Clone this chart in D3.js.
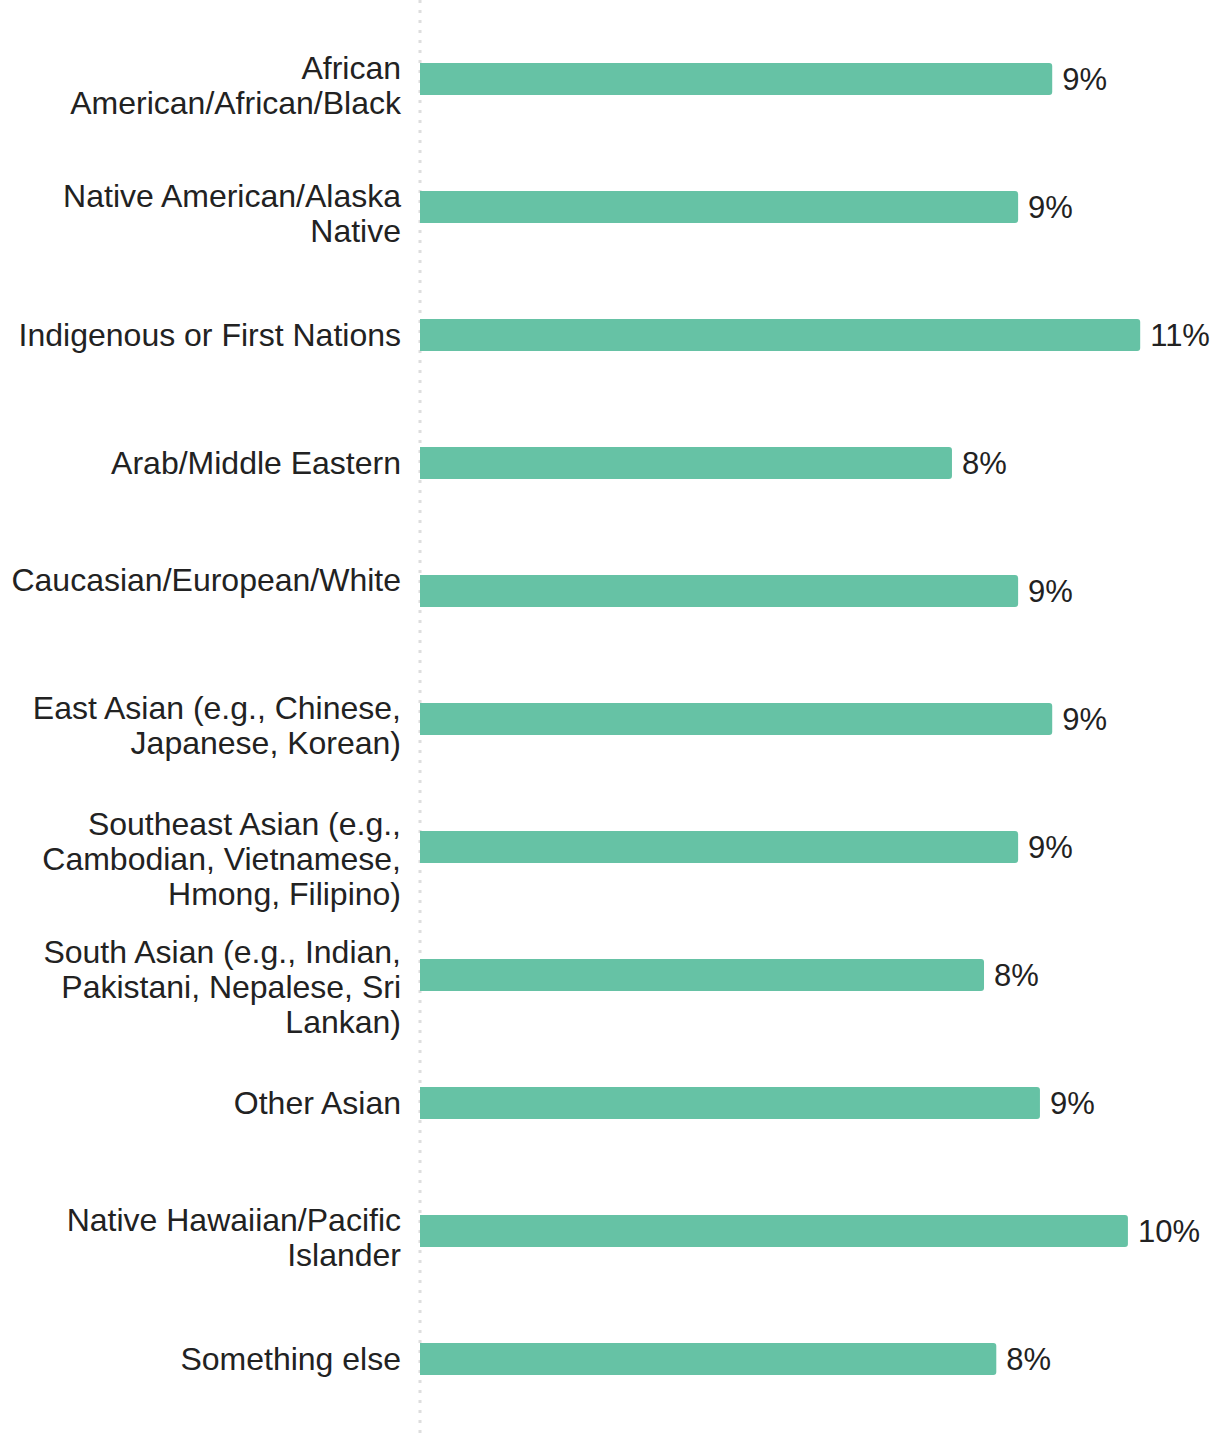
<!DOCTYPE html>
<html>
<head>
<meta charset="utf-8">
<script src="https://cdn.jsdelivr.net/npm/d3@7"></script>
<style>
  body { margin: 0; background: #fff; }
  svg { display: block; font-family: "Liberation Sans", Arial, sans-serif; }
  .label { fill: #222; font-size: 32px; }
  .value { fill: #222; font-size: 31px; }
</style>
</head>
<body>
<svg></svg>
<script>
// categories (as wrapped lines) and share values
const categories = [
  "African American/African/Black",
  "Native American/Alaska Native",
  "Indigenous or First Nations",
  "Arab/Middle Eastern",
  "Caucasian/European/White",
  "East Asian (e.g., Chinese, Japanese, Korean)",
  "Southeast Asian (e.g., Cambodian, Vietnamese, Hmong, Filipino)",
  "South Asian (e.g., Indian, Pakistani, Nepalese, Sri Lankan)",
  "Other Asian",
  "Native Hawaiian/Pacific Islander",
  "Something else"
];

const labelLines = [
  ["African", "American/African/Black"],
  ["Native American/Alaska", "Native"],
  ["Indigenous or First Nations"],
  ["Arab/Middle Eastern"],
  ["Caucasian/European/White", ""],
  ["East Asian (e.g., Chinese,", "Japanese, Korean)"],
  ["Southeast Asian (e.g.,", "Cambodian, Vietnamese,", "Hmong, Filipino)"],
  ["South Asian (e.g., Indian,", "Pakistani, Nepalese, Sri", "Lankan)"],
  ["Other Asian"],
  ["Native Hawaiian/Pacific", "Islander"],
  ["Something else"]
];

const values = [0.0927, 0.0877, 0.1056, 0.0780, 0.0877, 0.0927, 0.0877, 0.0827, 0.0909, 0.1038, 0.0845];

const width = 1229, height = 1437;
const svg = d3.select("svg").attr("width", width).attr("height", height);

const x = d3.scaleLinear()
  .domain([0, 0.1])
  .range([420, 1102]);

const y = d3.scaleBand()
  .domain(categories)
  .range([15, 1423])
  .paddingInner(0.75)
  .paddingOuter(0.375);

const fmt = d3.format(".0%");

// dotted baseline
svg.append("line")
  .attr("x1", x(0)).attr("x2", x(0))
  .attr("y1", 0).attr("y2", height)
  .attr("stroke", "#dedede")
  .attr("stroke-width", 3)
  .attr("stroke-dasharray", "3,7");

// bar with rounded right end
function barPath(x0, x1, y0, h, r) {
  return `M${x0},${y0}H${x1 - r}Q${x1},${y0} ${x1},${y0 + r}V${y0 + h - r}Q${x1},${y0 + h} ${x1 - r},${y0 + h}H${x0}Z`;
}

const rows = svg.selectAll("g.row")
  .data(categories)
  .enter()
  .append("g")
  .attr("class", "row");

rows.append("path")
  .attr("d", (d, i) => barPath(x(0), x(values[i]), y(d), y.bandwidth(), 3))
  .attr("fill", "#66c2a5");

rows.append("text")
  .attr("class", "value")
  .attr("x", (d, i) => x(values[i]) + 10)
  .attr("y", d => y(d) + y.bandwidth() / 2)
  .attr("dy", "0.35em")
  .text((d, i) => fmt(values[i]));

const labels = rows.append("text")
  .attr("class", "label")
  .attr("text-anchor", "end")
  .attr("x", 401)
  .attr("y", d => y(d) + y.bandwidth() / 2);

labels.selectAll("tspan")
  .data((d, i) => labelLines[i].map((t, j, arr) => ({ t, j, n: arr.length })))
  .enter()
  .append("tspan")
  .attr("x", 401)
  .attr("dy", l => l.j === 0 ? (0.35 * 32 - (l.n - 1) * 11.5) : 35)
  .text(l => l.t);
</script>
</body>
</html>
